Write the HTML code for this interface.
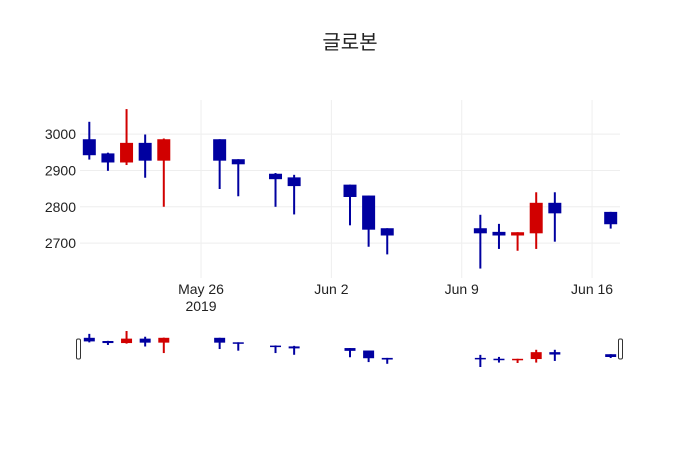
<!DOCTYPE html>
<html><head><meta charset="utf-8"><style>
body{margin:0;background:#fff;}
svg{display:block;font-family:"Liberation Sans","Noto Sans CJK KR",sans-serif;}
</style></head><body>
<svg id="c" width="700" height="450">
<text x="350" y="49" text-anchor="middle" font-size="20" fill="#222">글로본</text>
</svg>
<script>
const dates=["2019-05-20","2019-05-21","2019-05-22","2019-05-23","2019-05-24","2019-05-27","2019-05-28","2019-05-30","2019-05-31","2019-06-03","2019-06-04","2019-06-05","2019-06-10","2019-06-11","2019-06-12","2019-06-13","2019-06-14","2019-06-17"];
const opens=[2986,2947,2922,2976,2927,2986,2931,2891,2881,2861,2831,2741,2741,2731,2721,2727,2811,2786];
const highs=[3034,2949,3069,2999,2988,2986,2931,2893,2888,2861,2831,2741,2778,2753,2730,2840,2840,2786];
const lows=[2930,2899,2915,2880,2800,2849,2829,2800,2779,2749,2690,2669,2630,2684,2679,2684,2704,2740];
const closes=[2942,2922,2976,2927,2986,2927,2917,2876,2857,2827,2737,2721,2727,2721,2730,2811,2782,2752];
const yTicks=[2700,2800,2900,3000];
const xTickDates=["2019-05-26","2019-06-02","2019-06-09","2019-06-16"];
const xTickLabels=["May 26","Jun 2","Jun 9","Jun 16"];

const svg=document.getElementById('c');
const NS='http://www.w3.org/2000/svg';
const L=80,R=620,T=100,B=278;
const day=86400000;
const x0=Date.parse("2019-05-19T12:00:00Z"), x1=Date.parse("2019-06-17T12:00:00Z");
const xs=d=>L+(Date.parse(d+"T00:00:00Z")-x0)/(x1-x0)*(R-L);
const y0=2604,yTop=3094;
const ys=v=>B-(v-y0)/(yTop-y0)*(B-T);
const sT=331,sB=367,sMin=2630,sMax=3069;
const sy=v=>sB-(v-sMin)/(sMax-sMin)*(sB-sT);
function mk(tag,at,parent){const e=document.createElementNS(NS,tag);for(const k in at)e.setAttribute(k,at[k]);(parent||svg).appendChild(e);return e;}

// grid
yTicks.forEach(t=>{
  const g=mk('line',{x1:L,x2:R,y1:ys(t),y2:ys(t),stroke:'#eee','stroke-width':1});
  
  
  const tx=mk('text',{x:L-4,y:ys(t)+5,'text-anchor':'end','font-size':14,fill:'#222'});
  tx.textContent=t;
  
  
});
xTickDates.forEach((d,i)=>{
  const x=xs(d);
  const g=mk('line',{x1:x,x2:x,y1:T,y2:B,stroke:'#eee','stroke-width':1});
  
  
  const tx=mk('text',{x:x,y:294,'text-anchor':'middle','font-size':14,fill:'#222'});
  tx.textContent=xTickLabels[i];
  
  
});
const yr=mk('text',{x:xs(xTickDates[0]),y:311,'text-anchor':'middle','font-size':14,fill:'#222'});
yr.textContent='2019';



function candles(yf,bw,lw,name){
  dates.forEach((d,i)=>{
    const x=xs(d),o=opens[i],c=closes[i];
    const col=c>=o?'#d10000':'#0000a0';
    const g=mk('g',{});
    
    
    mk('line',{x1:x,x2:x,y1:yf(highs[i]),y2:yf(lows[i]),stroke:col,'stroke-width':lw},g);
    const top=yf(Math.max(o,c)),bot=yf(Math.min(o,c));
    mk('rect',{x:x-bw/2,y:top,width:bw,height:Math.max(bot-top,1.5),fill:col},g);
  });
}
candles(ys,13,2,'candle');
candles(sy,11,2,'slider-candle');

// range slider handles
[L-2,R].forEach((x,i)=>{
  const h=mk('rect',{x:x-1.5,y:339,width:4,height:20,rx:1.5,fill:'#fff',stroke:'#333','stroke-width':1});
  
  
});
</script>
</body></html>
